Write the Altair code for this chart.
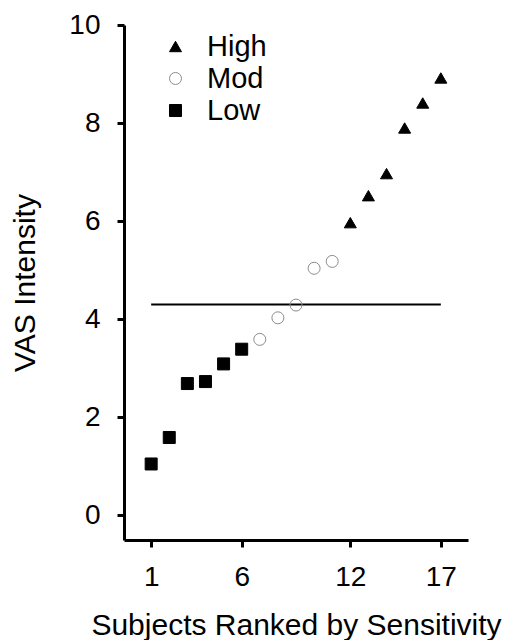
import altair as alt
import pandas as pd

ranks = [1, 2, 3, 4, 5, 6, 7, 8, 9, 10, 11, 12, 13, 14, 15, 16, 17]
vas = [1.05, 1.59, 2.69, 2.73, 3.09, 3.39, 3.59, 4.03, 4.29, 5.04, 5.18,
       5.97, 6.52, 6.97, 7.90, 8.41, 8.92]
groups = ["Low", "Low", "Low", "Low", "Low", "Low",
          "Mod", "Mod", "Mod", "Mod", "Mod",
          "High", "High", "High", "High", "High", "High"]
group_order = ["High", "Mod", "Low"]
threshold = 4.3
line_start, line_end = 1, 17
x_ticks = [1, 6, 12, 17]
y_ticks = [0, 2, 4, 6, 8, 10]

df = pd.DataFrame({"rank": ranks, "vas": vas, "group": groups})
line_df = pd.DataFrame({"x1": [line_start], "x2": [line_end], "y": [threshold]})

FONT = "Liberation Sans"

xscale = alt.Scale(domain=[-0.5, 18.5], nice=False, zero=False)
yscale = alt.Scale(domain=[-0.5, 10], nice=False, zero=False)

legend = alt.Legend(
    title=None, orient="none", legendX=37, legendY=7,
    labelFontSize=29, labelFont=FONT, labelColor="black",
    symbolSize=144, labelOffset=17, rowPadding=2, padding=0,
    symbolStrokeWidth=1,
)

points = alt.Chart(df).mark_point(filled=True, opacity=1, size=144, strokeWidth=1).encode(
    x=alt.X("rank:Q", scale=xscale,
            axis=alt.Axis(values=x_ticks, title="Subjects Ranked by Sensitivity",
                          labelPadding=16, titlePadding=19, titleFontSize=30)),
    y=alt.Y("vas:Q", scale=yscale,
            axis=alt.Axis(values=y_ticks, title="VAS Intensity",
                          labelPadding=17, titlePadding=28)),
    shape=alt.Shape("group:N", scale=alt.Scale(domain=group_order,
                    range=["triangle-up", "circle", "square"]), legend=legend),
    fill=alt.Fill("group:N", scale=alt.Scale(domain=group_order,
                  range=["black", "transparent", "black"]), legend=legend),
    stroke=alt.Stroke("group:N", scale=alt.Scale(domain=group_order,
                      range=["black", "#8c8c8c", "black"]), legend=legend),
)

rule = alt.Chart(line_df).mark_rule(color="black", strokeWidth=2).encode(
    x=alt.X("x1:Q", scale=xscale),
    x2="x2:Q",
    y=alt.Y("y:Q", scale=yscale),
)

chart = alt.layer(rule, points).properties(
    width=344, height=515,
    autosize=alt.AutoSizeParams(type="none"),
    padding={"left": 116, "top": 17, "right": 36, "bottom": 100},
).configure_view(stroke=None).configure_axis(
    grid=False, domainColor="black", domainWidth=3, tickColor="black",
    tickWidth=3, tickSize=7, labelFontSize=28, titleFontSize=30,
    labelFont=FONT, titleFont=FONT, titleFontWeight="normal",
    labelColor="black", titleColor="black",
)

chart.save("out.html", embed_options={"renderer": "svg", "actions": False})
